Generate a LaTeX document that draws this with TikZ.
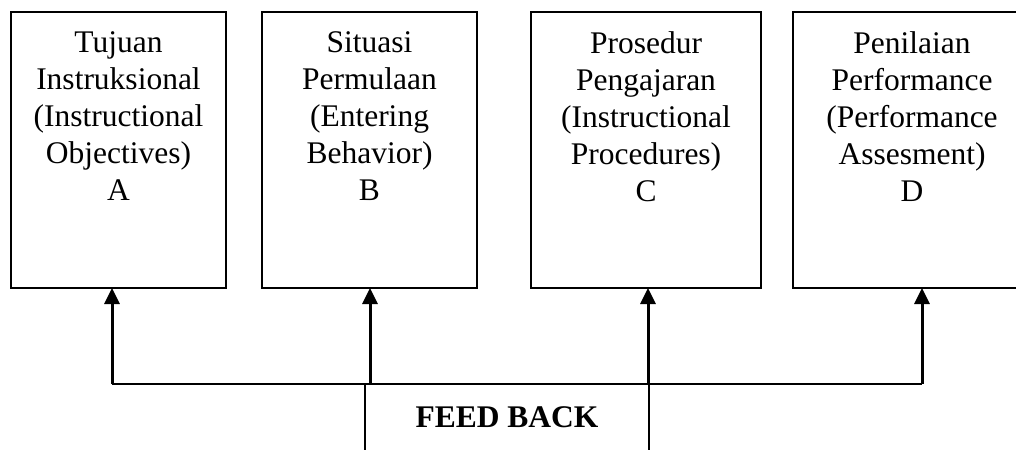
\documentclass[tikz,border=0pt]{standalone}
\usepackage{fontspec}
\setmainfont{Liberation Serif}
\usetikzlibrary{arrows.meta,positioning}

\tikzset{
	box/.style={draw, line width=2pt, outer sep=0pt, anchor=north west, minimum height=276pt},
	boxtext/.style={align=center, inner sep=0pt, anchor=north, font=\fontsize{31.5}{37}\selectfont},
	feed/.style={line width=3pt}
}

\begin{document}
\begin{tikzpicture}[x=1pt, y=-1pt, >={Triangle[width=15pt,length=16pt]}, node distance=19pt]
	\clip (0,0) rectangle (1016,450);
	% Boxes {a, b, c, d}
	\node [box, minimum width=215pt] 	(a) at (11,12)  {};
	\node [box, minimum width=215pt] 	(b) at (262,12) {};
	\node [box, minimum width=230pt] 	(c) at (531,12) {};
	\node [box, minimum width=238pt] 	(d) at (793,12) {};
	
	% Texts
	\node [boxtext] (ta) [below=of a.north] {Tujuan\\Instruksional\\(Instructional\\Objectives)\\A};
	\node [boxtext] (tb) [below=of b.north] {Situasi\\Permulaan\\(Entering\\Behavior)\\B};
	\node [boxtext] (tc) [below=of c.north] {Prosedur\\Pengajaran\\(Instructional\\Procedures)\\C};
	\node [boxtext] (td) [below=of d.north] {Penilaian\\Performance\\(Performance\\Assesment)\\D};
	
	% Feed back
	\coordinate (fa) at (112,384);
	\coordinate (fb) at (370,384);
	\coordinate (fc) at (648,384);
	\coordinate (fd) at (922,384);
	\node [anchor=north, minimum width=284pt, minimum height=66pt, outer sep=0pt, font=\fontsize{31.5}{37}\selectfont\bfseries] 
		(fbk) at (507,384) {FEED BACK};
	
	% Paths
	\draw [line width=2pt] (fa) -- (fd);
	\draw [line width=2pt] (fbk.north west) -- (fbk.south west);
	\draw [line width=2pt] (fbk.north east) -- (fbk.south east);
	\path [->, feed] (fa) edge (fa |- a.south);
	\path [->, feed] (fb) edge (fb |- b.south);
	\path [->, feed] (fc) edge (fc |- c.south);
	\path [->, feed] (fd) edge (fd |- d.south);
	
\end{tikzpicture}
\end{document}
